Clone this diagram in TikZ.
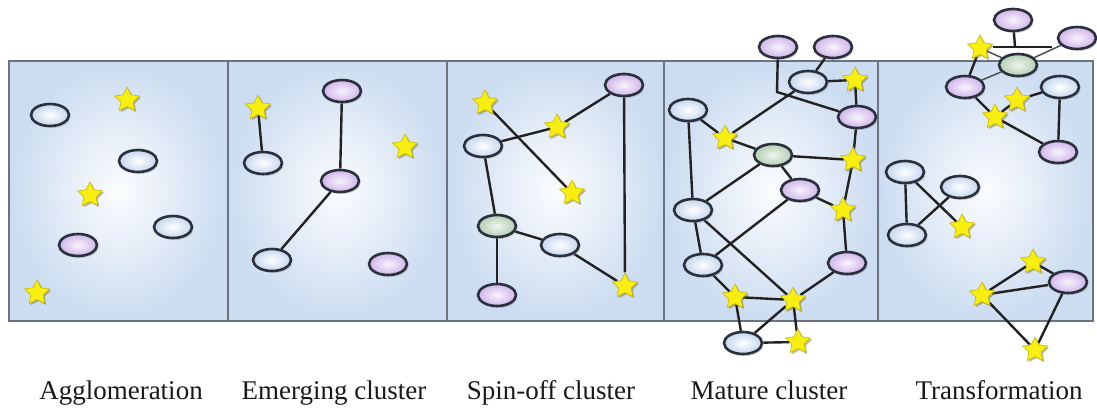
\documentclass[tikz,border=0pt]{standalone}
\usepackage{fontspec}
\setmainfont{Liberation Serif}
\usetikzlibrary{shapes.geometric}
\usetikzlibrary{shadows}
\usetikzlibrary{positioning}

\definecolor{framegray}{HTML}{6B7380}
\definecolor{panelblue}{HTML}{CCDCF1}
\definecolor{linkgray}{HTML}{222222}
\definecolor{rimdark}{HTML}{2A303C}
\definecolor{bluefill}{HTML}{C4D6EE}
\definecolor{violetfill}{HTML}{D0B4EA}
\definecolor{greenfill}{HTML}{B2CEB2}
\definecolor{staryellow}{HTML}{F8EE10}
\definecolor{starrim}{HTML}{C9B800}

\pgfdeclarelayer{back}
\pgfdeclarelayer{links}
\pgfsetlayers{back,links,main}

\tikzset{
  agent/.style={ellipse, minimum width=38pt, minimum height=22pt, inner sep=0pt,
    line width=2.6pt, draw=rimdark,
    drop shadow={shadow xshift=1.6pt, shadow yshift=-2pt, opacity=0.3}},
  blueagent/.style={agent, inner color=white, outer color=bluefill},
  violetagent/.style={agent, inner color=white!85!violetfill, outer color=violetfill},
  greenagent/.style={agent, inner color=white!80!greenfill, outer color=greenfill},
  staragent/.style={star, star points=5, star point ratio=2.0, minimum size=26pt,
    inner sep=0pt, fill=staryellow, draw=starrim, line width=0.6pt,
    drop shadow={shadow xshift=1.6pt, shadow yshift=-1.6pt, opacity=0.45, fill=olive!70!black}},
  link/.style={draw=linkgray, line width=2.4pt},
  thinlink/.style={draw=linkgray!80, line width=1.5pt},
  panel/.style={draw=framegray, line width=1.8pt, inner color=white!92!panelblue, outer color=panelblue},
  caption/.style={font=\fontsize{27}{30}\selectfont, text=black!90, anchor=base, inner sep=0pt}
}

\begin{document}
\begin{tikzpicture}[x=1pt, y=-1pt]

\useasboundingbox (0,0) rectangle (1097,407);

\begin{pgfonlayer}{back}
  \foreach \xa/\xb in {9/228, 228/447, 447/664, 664/878, 878/1093}
    \path[panel] (\xa,61) rectangle (\xb,321);
\end{pgfonlayer}

% agglomeration
\node[blueagent] (a1) at (50,115) {};
\node[staragent] (a2) at (127,100) {};
\node[blueagent] (a3) at (138,161) {};
\node[staragent] (a4) at (90,195) {};
\node[blueagent] (a5) at (173,227) {};
\node[violetagent] (a6) at (78,245) {};
\node[staragent] (a7) at (37,293) {};

% emerging cluster
\node[staragent] (e1) at (258,108) {};
\node[blueagent] (e2) at (263,163) {};
\node[violetagent] (e3) at (342,91) {};
\node[violetagent] (e4) at (340,181) {};
\node[staragent] (e5) at (405,147) {};
\node[blueagent] (e6) at (272,260) {};
\node[violetagent] (e7) at (388,264) {};

% spin-off cluster
\node[violetagent] (s1) at (624,85) {};
\node[staragent] (s2) at (485,103) {};
\node[staragent] (s3) at (557,127) {};
\node[blueagent] (s4) at (483,146) {};
\node[staragent] (s5) at (572,193) {};
\node[greenagent] (s6) at (497,226) {};
\node[blueagent] (s7) at (560,245) {};
\node[violetagent] (s8) at (497,295) {};
\node[staragent] (s9) at (625,286) {};

% mature cluster
\node[violetagent] (m1) at (778,47) {};
\node[violetagent] (m2) at (833,47) {};
\node[blueagent] (m3) at (808,82) {};
\node[staragent] (m4) at (855,80) {};
\node[blueagent] (m5) at (688,110) {};
\node[violetagent] (m6) at (857,117) {};
\node[staragent] (m7) at (725,138) {};
\node[greenagent] (m8) at (773,155) {};
\node[staragent] (m9) at (853,160) {};
\node[violetagent] (m10) at (800,190) {};
\node[staragent] (m11) at (843,210) {};
\node[blueagent] (m12) at (693,210) {};
\node[blueagent] (m13) at (703,265) {};
\node[violetagent] (m14) at (847,263) {};
\node[staragent] (m15) at (735,297) {};
\node[staragent] (m16) at (793,300) {};
\node[blueagent] (m17) at (743,343) {};
\node[staragent] (m18) at (798,342) {};
\coordinate (mbend) at (777,92);

% transformation
\node[violetagent] (t1) at (1013,20) {};
\node[violetagent] (t2) at (1077,38) {};
\node[staragent] (t3) at (980,48) {};
\node[greenagent] (t4) at (1018,65) {};
\node[violetagent] (t5) at (965,87) {};
\node[blueagent] (t6) at (1060,87) {};
\node[staragent] (t7) at (1017,100) {};
\node[staragent] (t8) at (995,117) {};
\node[violetagent] (t9) at (1058,152) {};
\node[blueagent] (t10) at (905,172) {};
\node[blueagent] (t11) at (960,187) {};
\node[blueagent] (t12) at (907,235) {};
\node[staragent] (t13) at (962,227) {};
\node[staragent] (t14) at (1033,262) {};
\node[violetagent] (t15) at (1068,282) {};
\node[staragent] (t16) at (982,295) {};
\node[staragent] (t17) at (1035,350) {};
\coordinate (tbarl) at (993,47);
\coordinate (tbarm) at (1015,47);
\coordinate (tbarr) at (1052,47);

\begin{pgfonlayer}{links}
  \draw[link] (e1) -- (e2);
  \draw[link] (e3) -- (e4);
  \draw[link] (e4) -- (e6);

  \draw[link] (s2) -- (s5);
  \draw[link] (s4) -- (s3) -- (s1);
  \draw[link] (s4) -- (s6);
  \draw[link] (s6) -- (s7);
  \draw[link] (s6) -- (s8);
  \draw[link] (s7) -- (s9);
  \draw[link] (s1) -- (s9);

  \draw[link] (m1) -- (mbend) -- (m6);
  \draw[link] (m2) -- (m3);
  \draw[link] (m3) -- (m4);
  \draw[link] (m4) -- (m6);
  \draw[link] (m3) -- (m7);
  \draw[link] (m5) -- (m7) -- (m8);
  \draw[link] (m5) -- (m12);
  \draw[link] (m8) -- (m9);
  \draw[link] (m6) -- (m9);
  \draw[link] (m8) -- (m10);
  \draw[link] (m8) -- (m12);
  \draw[link] (m10) -- (m11);
  \draw[link] (m9) -- (m11);
  \draw[link] (m11) -- (m14);
  \draw[link] (m12) -- (m13);
  \draw[link] (m12) -- (m16);
  \draw[link] (m10) -- (m13);
  \draw[link] (m13) -- (m15);
  \draw[link] (m15) -- (m16);
  \draw[link] (m14) -- (m16);
  \draw[link] (m15) -- (m17);
  \draw[link] (m16) -- (m17);
  \draw[link] (m16) -- (m18);
  \draw[link] (m17) -- (m18);

  \draw[link] (t1) -- (tbarm);
  \draw[link] (tbarl) -- (tbarr);
  \draw[thinlink] (t3) -- (t4);
  \draw[thinlink] (t2) -- (t4);
  \draw[link] (t3) -- (t5);
  \draw[thinlink] (t5) -- (t4);
  \draw[link] (t6) -- (t7);
  \draw[link] (t7) -- (t8);
  \draw[link] (t5) -- (t8);
  \draw[link] (t8) -- (t9);
  \draw[link] (t6) -- (t9);
  \draw[link] (t10) -- (t12);
  \draw[link] (t10) -- (t13);
  \draw[link] (t12) -- (t11);
  \draw[link] (t14) -- (t15);
  \draw[link] (t16) -- (t14);
  \draw[link] (t16) -- (t15);
  \draw[link] (t16) -- (t17);
  \draw[link] (t15) -- (t17);
\end{pgfonlayer}

\node[caption] (cap1) at (121,399) {Agglomeration};
\node[caption] (cap2) at (334,399) {Emerging cluster};
\node[caption] (cap3) at (551,399) {Spin-off cluster};
\node[caption] (cap4) at (769,399) {Mature cluster};
\node[caption] (cap5) at (999,399) {Transformation};

\end{tikzpicture}
\end{document}
